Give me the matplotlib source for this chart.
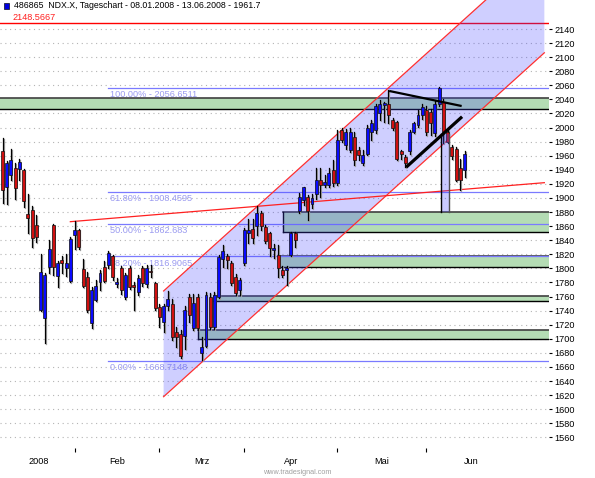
import matplotlib.pyplot as plt
import matplotlib.transforms as mtransforms
from matplotlib.patches import Polygon, Rectangle

plt.rcParams['font.family'] = ['Liberation Sans Narrow', 'Liberation Sans', 'DejaVu Sans']

# daily OHLC, NDX.X 08.01.2008 - 13.06.2008
opens = [1966, 1916, 1932, 1942, 1941, 1940, 1877, 1883, 1862, 1741,
         1729, 1802, 1861, 1789, 1812, 1801, 1782, 1847, 1855, 1799,
         1788, 1723, 1755, 1781, 1802, 1805, 1817, 1778, 1801, 1760,
         1801, 1776, 1766, 1801, 1778, 1796, 1779, 1745, 1724, 1746,
         1750, 1709, 1707, 1704, 1760, 1715, 1760, 1680, 1690, 1760,
         1717, 1760, 1814, 1817, 1808, 1788, 1769, 1807, 1850, 1856,
         1860, 1878, 1859, 1850, 1826, 1819, 1798, 1797, 1819, 1850,
         1881, 1897, 1902, 1891, 1906, 1925, 1918, 1918, 1940, 1921,
         1997, 1975, 1968, 1987, 1968, 1949, 1963, 1994, 1997, 2020,
         2032, 2034, 2011, 2008, 1966, 1958, 1966, 1994, 2004, 2018,
         2025, 2022, 1992, 2034, 2037, 1994, 1973, 1970, 1942, 1940]
highs = [1985, 1952, 1969, 1949, 1955, 1941, 1906, 1888, 1876, 1821,
         1793, 1840, 1863, 1810, 1817, 1820, 1844, 1867, 1856, 1814,
         1795, 1774, 1783, 1798, 1810, 1825, 1819, 1786, 1803, 1793,
         1803, 1781, 1791, 1803, 1805, 1805, 1780, 1750, 1750, 1768,
         1757, 1717, 1712, 1746, 1764, 1764, 1764, 1703, 1766, 1765,
         1766, 1819, 1833, 1820, 1810, 1792, 1786, 1857, 1870, 1870,
         1889, 1882, 1861, 1852, 1835, 1833, 1803, 1803, 1852, 1852,
         1907, 1916, 1904, 1905, 1942, 1942, 1933, 1942, 1954, 1996,
         1999, 1998, 1999, 1994, 1973, 1968, 2004, 2011, 2034, 2039,
         2037, 2053, 2013, 2010, 1968, 1961, 1996, 2008, 2025, 2034,
         2030, 2027, 2038, 2058, 2040, 1996, 1975, 1973, 1956, 1967]
lows = [1893, 1891, 1925, 1899, 1926, 1887, 1850, 1831, 1838, 1740,
        1694, 1793, 1790, 1774, 1793, 1789, 1781, 1827, 1827, 1774,
        1738, 1715, 1753, 1769, 1780, 1801, 1783, 1774, 1764, 1757,
        1771, 1741, 1762, 1775, 1774, 1788, 1741, 1717, 1710, 1741,
        1698, 1689, 1672, 1686, 1724, 1712, 1712, 1670, 1688, 1714,
        1714, 1758, 1802, 1800, 1776, 1762, 1762, 1805, 1836, 1836,
        1848, 1855, 1836, 1817, 1815, 1788, 1788, 1776, 1817, 1831,
        1878, 1890, 1869, 1886, 1899, 1902, 1916, 1916, 1917, 1918,
        1980, 1970, 1965, 1947, 1954, 1947, 1961, 1982, 1992, 2011,
        2008, 2006, 1997, 1954, 1956, 1944, 1963, 1992, 2001, 2012,
        1990, 1990, 1988, 2030, 1978, 1978, 1956, 1924, 1911, 1930]
closes = [1911, 1950, 1954, 1914, 1951, 1895, 1872, 1843, 1845, 1795,
          1790, 1827, 1802, 1807, 1808, 1808, 1841, 1855, 1830, 1775,
          1741, 1769, 1775, 1793, 1782, 1822, 1788, 1781, 1769, 1791,
          1773, 1773, 1786, 1779, 1801, 1795, 1743, 1731, 1746, 1757,
          1703, 1702, 1675, 1741, 1734, 1751, 1715, 1689, 1762, 1717,
          1762, 1816, 1824, 1812, 1779, 1765, 1783, 1855, 1855, 1843,
          1878, 1860, 1839, 1829, 1829, 1800, 1791, 1800, 1850, 1840,
          1902, 1915, 1881, 1900, 1925, 1918, 1923, 1935, 1921, 1982,
          1982, 1994, 1994, 1954, 1961, 1961, 1999, 2006, 2030, 2034,
          2035, 2018, 1999, 1956, 1963, 1950, 1994, 2006, 2018, 2029,
          1993, 2006, 2034, 2056, 1994, 1980, 1959, 1926, 1926, 1962]

months = ['2008', 'Feb', 'Mrz', 'Apr', 'Mai', 'Jun']
month_starts = [0, 17, 37, 57, 79, 100, 121]

fib_names = ['100.00%', '61.80%', '50.00%', '38.20%', '0.00%']
fib_levels = [2056.6511, 1908.4595, 1862.683, 1816.9065, 1668.7148]

zone_low = [2026.4, 1851.2, 1801.5, 1753.6, 1699.0]
zone_high = [2042.5, 1880.5, 1817.6, 1760.7, 1712.4]
zone_start = [-0.6, 66.2, 65.1, 49.9, 46.0]

resistance = 2148.5667
chan_x = [38.0, 127.8]
chan_upper = [1767.9, 2256.4]
chan_lower = [1617.7, 2106.2]
trend_x = [16.0, 127.8]
trend_y = [1866.3, 1921.7]
tri_top_x = [91.2, 108.3]
tri_top_y = [2052.0, 2030.6]
tri_bot_x = [95.2, 108.4]
tri_bot_y = [1943.6, 2015.4]
gap_x = [103.35, 105.3]
gap_y = [1880.5, 1991.0]

W, H = 595, 478
fig = plt.figure(figsize=(W / 100, H / 100), dpi=100)
ax = fig.add_axes([0, (H - 447.6) / H, 549 / W, 447.6 / H])
x0, x1 = -0.59, 128.9
ax.set_xlim(x0, x1)
ax.set_ylim(1545.4, 2181.2)
for s in ax.spines.values():
    s.set_visible(False)

# dotted grid
for lvl in range(1560, 2141, 20):
    ax.plot([x0, x1], [lvl, lvl], color='#b4b4b4', lw=0.8, ls=(0, (1, 3.3)), zorder=1)

# support / resistance zones
for lo, hi, st in zip(zone_low, zone_high, zone_start):
    ax.add_patch(Rectangle((st, lo), x1 - st, hi - lo, facecolor='#b4dcb4', edgecolor='none', zorder=2))
    ax.plot([st, x1], [hi, hi], color='#404040', lw=1.2, zorder=2.1)
    ax.plot([st, x1], [lo, lo], color='black', lw=1.0, zorder=2.1)
    if st > x0:
        ax.plot([st, st], [lo, hi], color='black', lw=1.0, zorder=2.1)

ax.plot([x0, x1], [resistance, resistance], color='#ff0000', lw=1.0, zorder=3)

# fibonacci levels
fib_start = 25.0
for name, lvl in zip(fib_names, fib_levels):
    ax.plot([fib_start, x1], [lvl, lvl], color='#7a7aff', lw=0.9, zorder=3)
    ax.annotate('%s - %s' % (name, ('%.4f' % lvl).rstrip('0')), xy=(fib_start + 0.3, lvl),
                xytext=(0, -1.5), textcoords='offset points', va='top', ha='left',
                fontsize=6.6, color='#9a9af0', zorder=3)

# trend channel
ax.add_patch(Polygon([(chan_x[0], chan_lower[0]), (chan_x[1], chan_lower[1]),
                      (chan_x[1], chan_upper[1]), (chan_x[0], chan_upper[0])],
                     closed=True, facecolor=(0.25, 0.25, 1.0, 0.25), edgecolor='none', zorder=4))
ax.plot(chan_x, chan_upper, color='#ff3030', lw=0.9, zorder=4.5)
ax.plot(chan_x, chan_lower, color='#ff3030', lw=0.9, zorder=4.5)
ax.plot(trend_x, trend_y, color='#ff2020', lw=0.9, zorder=4.5)

# candles
idx = list(range(len(closes)))
shadow = mtransforms.offset_copy(ax.transData, fig=fig, x=1, y=-1, units='dots')
for i in idx:
    o, h, l, c = opens[i], highs[i], lows[i], closes[i]
    col = '#0a0aff' if c >= o else '#d01010'
    lo_b, hi_b = min(o, c), max(o, c)
    if hi_b - lo_b < 1.4:
        hi_b = lo_b + 1.4
    ax.plot([i, i], [l, h], color='#a0a0a0', lw=0.9, zorder=5, transform=shadow)
    ax.add_patch(Rectangle((i - 0.35, lo_b), 0.7, hi_b - lo_b, facecolor='#a0a0a0',
                           edgecolor='none', zorder=5, transform=shadow))
    ax.plot([i, i], [l, h], color='black', lw=0.9, zorder=6)
    ax.add_patch(Rectangle((i - 0.35, lo_b), 0.7, hi_b - lo_b, facecolor=col,
                           edgecolor='#101010', lw=0.5, zorder=6.5))

# gap marker
ax.add_patch(Rectangle((gap_x[0], gap_y[0]), gap_x[1] - gap_x[0], gap_y[1] - gap_y[0],
                       facecolor=(0.3, 0.3, 1.0, 0.3), edgecolor='none', zorder=7))
ax.plot([gap_x[0], gap_x[0]], gap_y, color='black', lw=1.0, zorder=7.1)
ax.plot([gap_x[1], gap_x[1]], gap_y, color='#505050', lw=1.0, zorder=7.1)

# triangle
ax.plot(tri_top_x, tri_top_y, color='black', lw=1.6, zorder=8, solid_capstyle='butt')
ax.plot(tri_bot_x, tri_bot_y, color='black', lw=2.3, zorder=8, solid_capstyle='butt')

# axes
ax.yaxis.tick_right()
ax.set_yticks(range(1560, 2141, 20))
ax.tick_params(axis='y', direction='out', length=2.5, width=0.8, pad=1.5,
               labelsize=6.6, colors='black')
tick_pos = [(a + b) / 2 for a, b in zip(month_starts[:-1], month_starts[1:])]
ax.set_xticks(tick_pos)
ax.set_xticklabels(months)
ax.set_xticks(month_starts[1:-1], minor=True)
ax.tick_params(axis='x', which='major', length=0, pad=7, labelsize=6.6)
ax.tick_params(axis='x', which='minor', direction='out', length=3, width=0.8, pad=2)

# header
fig.patches.append(Rectangle((4 / W, 1 - 9 / H), 5 / W, 6 / H, transform=fig.transFigure,
                             facecolor='#0000e0', edgecolor='#202040', lw=0.6, figure=fig))
fig.text(14 / W, 1 - 6 / H, '486865  NDX.X, Tageschart - 08.01.2008 - 13.06.2008 - 1961.7',
         fontsize=6.3, va='center', ha='left', color='black')
fig.text(12 / W, 1 - 17 / H, ('%.4f' % resistance), fontsize=6.6, va='center', ha='left',
         color='#ff2020')
fig.text(297 / W, 1 - 473 / H, 'www.tradesignal.com', fontsize=5.2, va='center', ha='center',
         color='#a0a0a0')

fig.savefig('out.png', dpi=100)
